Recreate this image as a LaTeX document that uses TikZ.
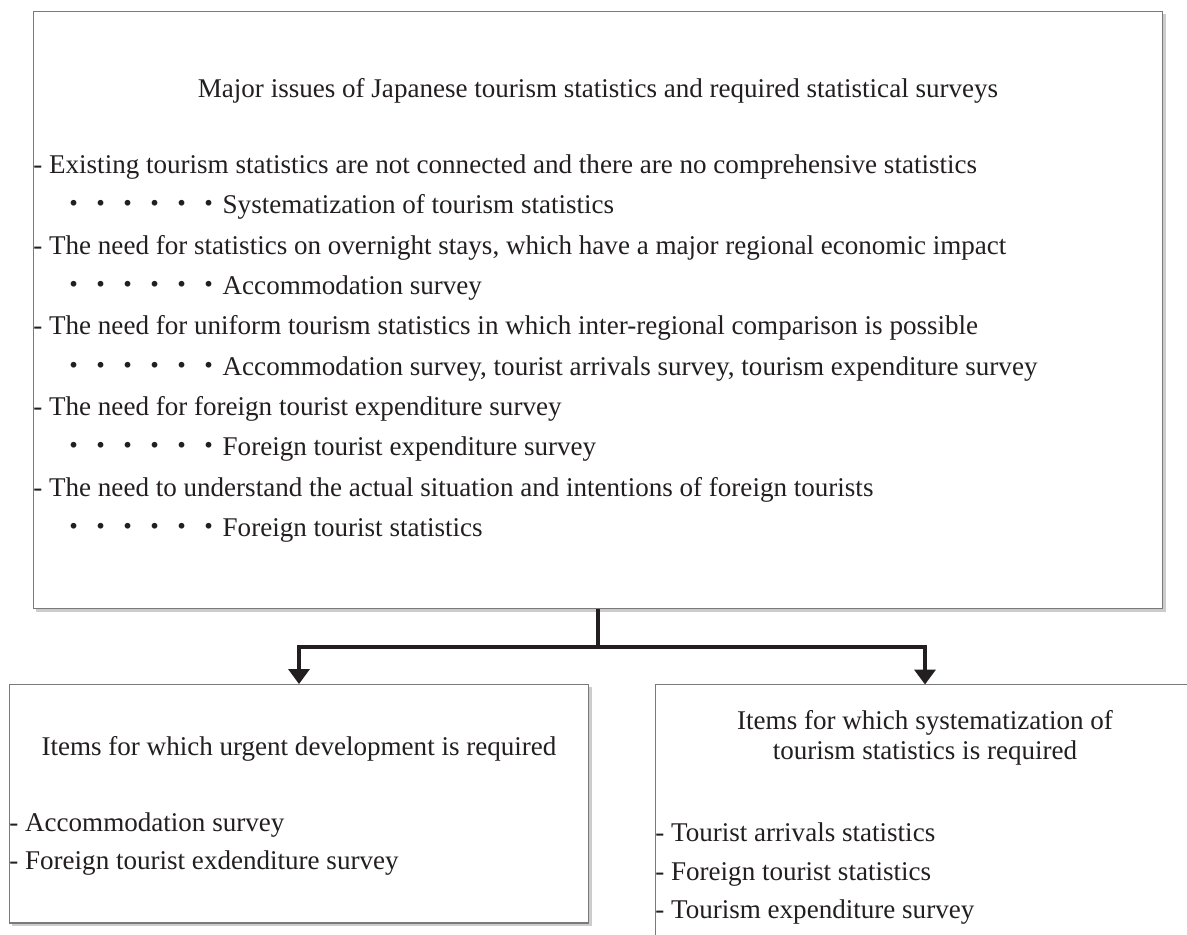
\documentclass[tikz,border=0pt]{standalone}
\usepackage{fontspec}
\setmainfont{Liberation Serif}
\newfontfamily\jpfont{Noto Sans CJK JP}
\usetikzlibrary{arrows.meta, shadows}
\definecolor{ink}{HTML}{231F20}
\definecolor{frame}{HTML}{7A7A7A}
\newcommand{\dotrow}{{\jpfont ・・・・・・}}

\begin{document}
\begin{tikzpicture}[x=0.02cm, y=-0.02cm,
    box/.style={draw=frame, line width=0.6pt, fill=white, inner sep=0pt, outer sep=0pt,
        drop shadow={shadow xshift=1.6pt, shadow yshift=-1.6pt, fill=black!40, opacity=0.5}},
    txt/.style={anchor=base west, inner sep=0pt, text=ink, font=\fontsize{15.4}{17}\selectfont},
    head/.style={anchor=base, inner sep=0pt, text=ink, align=center, font=\fontsize{15.4}{17}\selectfont},
    flow/.style={draw=ink, line width=2pt, -{Triangle[length=0.3cm, width=0.42cm]}}]
\useasboundingbox (0,0) rectangle (1187,934);
\begin{scope}
\clip (0,0) rectangle (1187,934);

    % Major issues
    \node[box, minimum width=22.6cm, minimum height=11.96cm] (issues) at (598,310) {};
    \node[head] (issuestitle) at (598,97) {Major issues of Japanese tourism statistics and required statistical surveys};
    \node[txt] (need1) at (33,173) {- Existing tourism statistics are not connected and there are no comprehensive statistics};
    \node[txt] (survey1) at (60,213) {\dotrow Systematization of tourism statistics};
    \node[txt] (need2) at (33,254) {- The need for statistics on overnight stays, which have a major regional economic impact};
    \node[txt] (survey2) at (60,294) {\dotrow Accommodation survey};
    \node[txt] (need3) at (33,334) {- The need for uniform tourism statistics in which inter-regional comparison is possible};
    \node[txt] (survey3) at (60,375) {\dotrow Accommodation survey, tourist arrivals survey, tourism expenditure survey};
    \node[txt] (need4) at (33,415) {- The need for foreign tourist expenditure survey};
    \node[txt] (survey4) at (60,455) {\dotrow Foreign tourist expenditure survey};
    \node[txt] (need5) at (33,496) {- The need to understand the actual situation and intentions of foreign tourists};
    \node[txt] (survey5) at (60,536) {\dotrow Foreign tourist statistics};

    % Urgent development
    \node[box, minimum width=11.6cm, minimum height=4.78cm] (urgent) at (299,803.5) {};
    \node[head] (urgenttitle) at (299,755) {Items for which urgent development is required};
    \node[txt] (urgent1) at (9,831) {- Accommodation survey};
    \node[txt] (urgent2) at (9,869) {- Foreign tourist exdenditure survey};

    % Systematization
    \node[box, minimum width=10.8cm, minimum height=5.5cm] (system) at (925,822) {};
    \node[head] (systemtitle) at (925,759) {Items for which systematization of\\tourism statistics is required};
    \node[txt] (system1) at (655,841) {- Tourist arrivals statistics};
    \node[txt] (system2) at (655,880) {- Foreign tourist statistics};
    \node[txt] (system3) at (655,918) {- Tourism expenditure survey};

    \draw[flow] (issues.south) -- ++(0,38) -| (urgent.north);
    \draw[flow] (issues.south) -- ++(0,38) -| (system.north);
\end{scope}
\end{tikzpicture}
\end{document}
